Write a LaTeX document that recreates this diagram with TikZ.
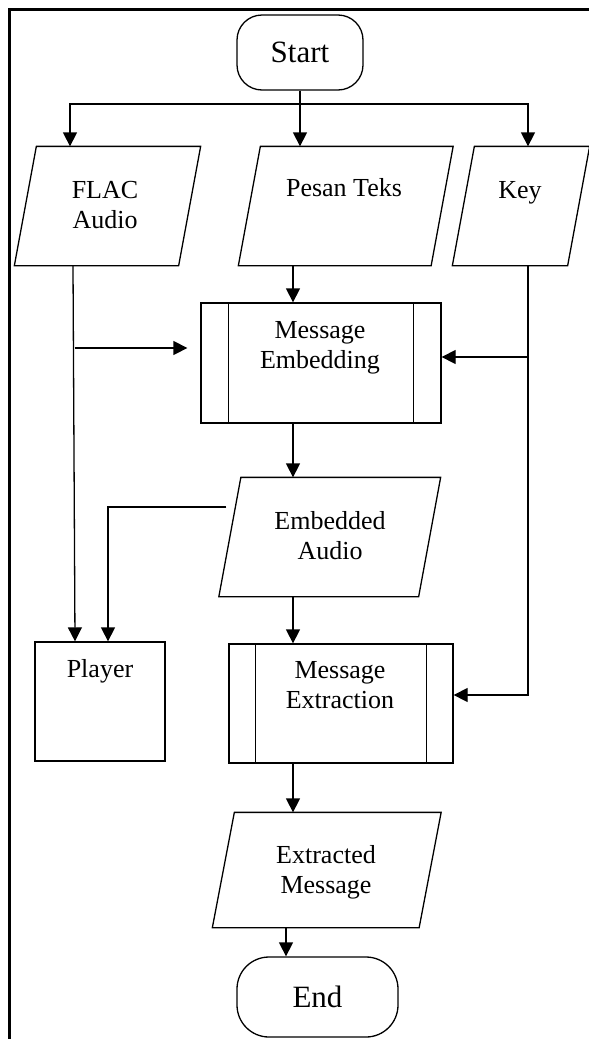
\documentclass[tikz,border=0pt]{standalone}
\usepackage{fontspec}
\setmainfont{Liberation Serif}
\usetikzlibrary{arrows.meta}
\begin{document}
\begin{tikzpicture}[x=1pt,y=-1pt,
  line width=1.3pt,
  arr/.style={-{Triangle[length=14pt,width=14pt]}},
  lbl/.style={anchor=north,inner sep=0pt,align=center,font=\fontsize{26}{30}\selectfont},
  term/.style={draw,inner sep=0pt,font=\fontsize{31}{36}\selectfont},
  io/.style={inner sep=0pt},
  proc/.style={draw,inner sep=0pt}
]
\useasboundingbox (0,0) rectangle (589,1039);
% frame (left and top only)
\draw[line width=3pt] (9,1039) -- (9,9) -- (589,9);

% shapes
\node[term, rounded corners=25pt, minimum width=126pt, minimum height=75pt] (start) at (300,52.5) {Start};
\node[io, minimum width=163pt, minimum height=118pt] (flac) at (107.5,206) {};
\node[io, minimum width=191.5pt, minimum height=118pt] (pesan) at (345.75,206) {};
\node[io, minimum width=114pt, minimum height=118pt] (key) at (521,206) {};
\node[proc, minimum width=240pt, minimum height=120pt] (emb) at (321,363) {};
\node[io, minimum width=198.5pt, minimum height=118pt] (eaudio) at (329.75,537) {};
\node[proc, minimum width=130pt, minimum height=119pt] (player) at (100,701.5) {};
\node[proc, minimum width=224pt, minimum height=119pt] (ext) at (341,703.5) {};
\node[io, minimum width=205.5pt, minimum height=114pt] (emsg) at (326.75,870) {};
\node[term, rounded corners=32pt, minimum width=161pt, minimum height=80pt] (end) at (317.5,997) {End};

% parallelograms
\foreach \n in {flac,pesan,key,eaudio,emsg}
  \draw ([xshift=11pt]\n.north west) -- ([xshift=11pt]\n.north east)
     -- ([xshift=-11pt]\n.south east) -- ([xshift=-11pt]\n.south west) -- cycle;
% predefined process side bars
\foreach \n/\d in {emb/28,ext/27}{
  \draw[line width=1.5pt] ([xshift=\d pt]\n.north west) -- ([xshift=\d pt]\n.south west);
  \draw[line width=1.5pt] ([xshift=-\d pt]\n.north east) -- ([xshift=-\d pt]\n.south east);
}

% labels
\node[lbl] (tflac) at (105,181) {FLAC\\Audio};
\node[lbl] (tpesan) at (344,178) {Pesan Teks};
\node[lbl] (tkey) at (520,181) {Key};
\node[lbl] (temb) at (320,321) {Message\\Embedding};
\node[lbl] (teaudio) at (330,511) {Embedded\\Audio};
\node[lbl] (tplayer) at (100,659) {Player};
\node[lbl] (textr) at (340,661) {Message\\Extraction};
\node[lbl] (temsg) at (326,845) {Extracted\\Message};

% connectors
\coordinate (jtop) at (300,104);
\coordinate (axis) at (293,0);
\draw (start.south) -- (jtop);
\draw[arr] (jtop) -| ([xshift=-37.5pt]flac.north);
\draw[arr] (jtop) -| ([xshift=7pt]key.north);
\draw[arr] (start.south) -- (start.south |- pesan.north);

\draw[arr] ([xshift=-34.5pt]flac.south) -- ([xshift=-25pt]player.north);
\coordinate (jflac) at (74.5,348);
\coordinate (embL) at ([xshift=-13pt]emb.west);
\draw[arr] (jflac) -- (embL |- jflac);

\draw[arr] (axis |- pesan.south) -- (axis |- emb.north);

\coordinate (keyx) at ([xshift=7pt]key.south);
\coordinate (extR) at ([yshift=8.5pt]ext.east);
\coordinate (embR) at ([yshift=6pt]emb.east);
\draw[arr] (keyx) |- (extR);
\draw[arr] (keyx |- embR) -- (embR);

\draw[arr] (axis |- emb.south) -- (axis |- eaudio.north);
\coordinate (eaL) at ([xshift=-3.5pt,yshift=30pt]eaudio.west);
\draw[arr] (eaL) -| ([xshift=8pt]player.north);

\draw[arr] (axis |- eaudio.south) -- (axis |- ext.north);
\draw[arr] (axis |- ext.south) -- (axis |- emsg.north);

\coordinate (axisb) at ([xshift=-31.5pt]end.north);
\draw[arr] (axisb |- emsg.south) -- (axisb);
\end{tikzpicture}
\end{document}
